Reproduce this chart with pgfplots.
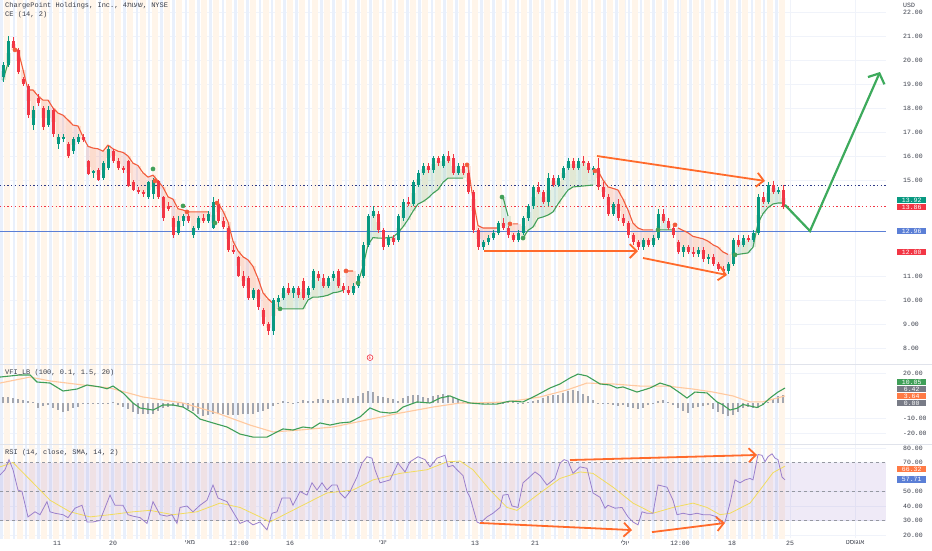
\documentclass[border=0pt]{standalone}
\usepackage{fontspec}
\usepackage{pgfplots}
\pgfplotsset{compat=1.18}
\usepackage{pgfplotstable}
\usetikzlibrary{arrows.meta}
\TeXXeTstate=1
\setmainfont{Liberation Mono}
\newfontfamily\heb[Script=Hebrew]{Liberation Sans}
\definecolor{tvgreen}{HTML}{089981}
\definecolor{tvred}{HTML}{F23645}
\definecolor{ceR}{HTML}{F25C3C}
\definecolor{ceG}{HTML}{43A05A}
\definecolor{stripeO}{HTML}{FFF5EA}
\definecolor{stripeB}{HTML}{E9F0FC}
\definecolor{tvgrid}{HTML}{F0F3FA}
\definecolor{tvtext}{HTML}{3A3E4A}
\definecolor{navy}{HTML}{2E3A87}
\definecolor{blueline}{HTML}{5B7FD6}
\definecolor{orangeA}{HTML}{FF6A2B}
\definecolor{greenA}{HTML}{3DAA5C}
\definecolor{vfiG}{HTML}{3F9F58}
\definecolor{vfiS}{HTML}{FFC9A0}
\definecolor{histc}{HTML}{A3A6AF}
\definecolor{rsiP}{HTML}{9A7FCC}
\definecolor{rsiMA}{HTML}{F2DC5D}
\definecolor{rsiband}{HTML}{7E57C2}
\definecolor{dashgray}{HTML}{9598A1}
\definecolor{boxgray}{HTML}{787B86}
\definecolor{boxorange}{HTML}{FF7A45}
\definecolor{sep}{HTML}{E0E3EB}

\pgfplotstableread{
b o
1.5 7.25
13.8 19.55
26.1 31.85
38.4 44.15
50.7 56.45
63.0 68.75
75.3 81.05
87.6 93.35
99.9 105.65
112.2 117.95
124.5 130.25
136.8 142.55
149.1 154.85
161.4 167.15
173.7 179.45
186.0 191.75
198.3 204.05
210.6 216.35
222.9 228.65
235.2 240.95
247.5 253.25
259.8 265.55
272.1 277.85
284.4 290.15
296.7 302.45
309.0 314.75
321.3 327.05
333.6 339.35
345.9 351.65
358.2 363.95
370.5 376.25
382.8 388.55
395.1 400.85
407.4 413.15
419.7 425.45
432.0 437.75
444.3 450.05
456.6 462.35
468.9 474.65
481.2 486.95
493.5 499.25
505.8 511.55
518.1 523.85
530.4 536.15
542.7 548.45
555.0 560.75
567.3 573.05
579.6 585.35
591.9 597.65
604.2 609.95
616.5 622.25
628.8 634.55
641.1 646.85
653.4 659.15
665.7 671.45
678.0 683.75
690.3 696.05
702.6 708.35
714.9 720.65
727.2 732.95
739.5 745.25
751.8 757.55
764.1 769.85
776.4 782.15
}\stripetab

\pgfplotstableread{
x o h l c ce d
3 19.3 19.9 19.1 19.8 19.15 1
8 19.8 21.0 19.7 20.8 19.87 1
13 20.8 20.95 20.4 20.5 20.42 -1
18 20.4 20.5 19.4 19.5 20.42 -1
23 19.2 19.3 18.9 19.0 19.6 -1
28 18.9 19.0 17.6 17.7 18.75 -1
33 17.3 18.1 17.1 17.9 18.75 -1
38 18.4 18.6 18.1 18.2 18.5 -1
43 18.0 18.1 17.1 17.2 18.33 -1
48 17.3 18.1 17.2 17.9 18.33 -1
53 17.9 18.0 16.8 16.9 18.0 -1
58 16.5 16.9 16.3 16.8 17.79 -1
63 16.7 16.9 16.6 16.8 17.7 -1
68 16.5 16.6 15.9 16.0 17.5 -1
73 16.2 16.8 16.1 16.7 17.29 -1
78 16.6 16.9 16.5 16.8 17.25 -1
83 16.8 16.9 16.6 16.65 16.8 -1
88 15.8 15.85 15.2 15.25 16.4 -1
93 15.3 15.4 15.1 15.35 16.33 -1
98 15.4 15.5 14.95 15.0 16.3 -1
103 15.1 15.8 15.0 15.7 16.2 -1
108 15.5 16.4 15.4 16.3 16.45 -1
113 16.2 16.3 15.7 15.8 16.3 -1
118 15.8 15.9 15.4 15.5 16.2 -1
123 15.5 15.6 15.3 15.45 16.15 -1
128 15.8 15.85 14.7 14.75 16.0 -1
133 14.9 15.0 14.55 14.6 15.7 -1
138 14.6 14.7 14.4 14.5 15.6 -1
143 14.5 14.6 14.3 14.4 15.3 -1
148 14.3 14.95 14.2 14.9 15.12 -1
153 14.4 15.1 14.2 15.0 15.2 -1
158 14.95 15.0 14.2 14.3 14.96 -1
163 14.3 14.35 13.3 13.4 14.7 -1
168 13.9 14.1 13.7 13.8 14.3 -1
173 13.4 13.5 12.6 12.7 14.2 -1
178 12.8 13.5 12.7 13.3 13.8 -1
183 13.3 13.6 13.1 13.5 13.75 -1
188 13.5 13.6 13.2 13.3 13.67 -1
193 12.7 13.1 12.6 13.0 13.67 -1
198 13.0 13.5 12.9 13.4 13.67 -1
203 13.4 13.6 13.2 13.3 13.67 -1
208 13.3 13.7 13.2 13.6 13.67 -1
213 13.0 14.3 12.95 14.1 13.2 1
218 14.0 14.2 13.2 13.3 14.04 -1
223 13.3 13.45 12.95 13.05 13.7 -1
228 13.0 13.1 12.0 12.1 13.25 -1
233 12.1 12.3 11.9 12.0 12.45 -1
238 11.8 11.85 10.95 11.0 12.05 -1
243 11.0 11.2 10.5 10.6 11.8 -1
248 10.9 11.0 10.0 10.1 11.67 -1
253 10.1 10.5 10.0 10.4 11.4 -1
258 10.4 10.45 9.6 9.7 10.9 -1
263 9.6 9.65 8.9 9.0 10.3 -1
268 9.0 9.1 8.55 8.7 10.05 -1
273 8.7 10.1 8.55 10.0 9.85 -1
278 9.9 10.2 9.7 10.1 9.63 1
283 10.1 10.6 10.0 10.5 9.63 1
288 10.5 10.7 10.2 10.3 9.63 1
293 10.3 10.6 10.1 10.5 9.63 1
298 10.5 10.6 10.1 10.2 9.63 1
303 10.8 10.9 10.0 10.1 9.63 1
308 10.2 10.6 10.1 10.5 10.0 1
313 10.5 11.3 10.4 11.2 10.12 1
318 11.1 11.2 10.8 10.9 10.12 1
323 10.9 11.1 10.5 10.6 10.15 1
328 10.6 11.0 10.5 10.9 10.2 1
333 10.9 11.2 10.8 11.1 10.3 1
338 11.2 11.3 10.5 10.6 10.33 1
343 10.6 10.7 10.3 10.4 10.4 1
348 10.4 10.6 10.2 10.3 11.21 -1
353 10.3 10.7 10.2 10.6 11.21 -1
358 10.6 11.1 10.5 11.0 10.71 1
363 11.0 12.4 10.9 12.3 11.4 1
368 12.3 13.6 12.2 13.5 12.3 1
373 13.5 13.9 13.4 13.7 12.6 1
378 13.6 13.7 12.8 12.9 12.58 1
383 12.9 13.0 12.1 12.2 12.58 1
388 12.3 12.7 12.2 12.6 12.6 1
393 12.6 12.7 12.3 12.4 12.62 1
398 12.5 13.6 12.4 13.5 12.8 1
403 13.4 14.2 13.3 14.1 13.05 1
408 14.1 14.3 13.9 14.0 13.35 1
413 14.0 15.0 13.9 14.9 13.7 1
418 14.8 15.4 14.7 15.3 14.0 1
423 15.3 15.7 15.2 15.6 14.1 1
428 15.6 15.7 15.3 15.4 14.25 1
433 15.4 16.0 15.3 15.9 14.45 1
438 15.9 16.0 15.6 15.7 14.6 1
443 15.6 16.1 15.5 16.0 14.9 1
448 16.0 16.2 15.7 15.8 15.08 1
453 15.9 16.1 15.2 15.3 15.08 1
458 15.3 15.7 15.2 15.6 15.08 1
463 15.6 15.7 15.2 15.3 15.08 1
468 15.3 15.4 14.4 14.5 15.6 -1
473 14.5 14.6 12.8 12.9 14.2 -1
478 12.9 13.0 12.1 12.2 13.1 -1
483 12.2 12.5 12.1 12.4 13.0 -1
488 12.4 12.7 12.3 12.6 13.0 -1
493 12.6 12.9 12.5 12.8 13.0 -1
498 12.8 13.3 12.7 13.2 13.0 -1
503 13.2 13.4 12.9 13.0 14.29 1
508 13.0 13.1 12.6 12.7 13.5 1
513 12.7 12.8 12.4 12.5 13.17 -1
518 12.5 12.9 12.4 12.8 13.17 -1
523 12.8 13.5 12.7 13.4 12.58 1
528 13.4 14.0 13.3 13.9 12.9 1
533 13.9 14.8 13.8 14.7 13.04 1
538 14.7 14.9 14.4 14.5 13.4 1
543 14.5 14.6 14.0 14.1 13.46 1
548 14.1 15.3 13.9 15.1 13.54 1
553 15.1 15.2 14.7 14.8 13.67 1
558 14.8 15.2 14.7 15.1 14.0 1
563 15.1 15.6 15.0 15.5 14.3 1
568 15.5 15.9 15.4 15.8 14.58 1
573 15.8 15.9 15.4 15.5 14.71 1
578 15.5 15.9 15.4 15.8 14.73 1
583 15.8 16.0 15.6 15.7 14.75 1
588 15.7 15.8 15.3 15.4 14.77 1
593 15.4 15.6 15.2 15.5 14.79 1
598 15.5 15.9 14.6 14.7 15.38 -1
603 14.7 14.9 14.2 14.3 15.0 -1
608 14.3 14.4 13.5 13.6 14.71 -1
613 13.6 14.1 13.5 14.0 14.65 -1
618 14.0 14.2 13.3 13.4 14.58 -1
623 13.4 13.6 13.1 13.2 14.2 -1
628 13.2 13.3 12.6 12.7 13.75 -1
633 12.7 12.8 12.3 12.4 13.2 -1
638 12.4 12.5 12.1 12.2 13.0 -1
643 12.2 12.6 12.1 12.5 12.92 -1
648 12.5 12.6 12.2 12.3 12.92 -1
653 12.3 12.7 12.2 12.6 12.92 -1
658 12.6 13.8 12.5 13.6 12.92 1
663 13.6 13.8 13.2 13.3 12.92 1
668 13.3 13.4 12.9 13.0 12.92 1
673 13.0 13.1 12.6 12.7 12.92 1
678 12.4 12.5 11.9 12.0 13.0 -1
683 12.0 12.3 11.8 12.2 12.9 -1
688 12.2 12.3 11.9 12.0 12.8 -1
693 12.0 12.2 11.8 11.9 12.65 -1
698 11.9 12.2 11.8 12.1 12.6 -1
703 12.1 12.2 11.6 11.7 12.55 -1
708 11.7 11.9 11.5 11.8 12.45 -1
713 11.8 11.9 11.4 11.5 12.3 -1
718 11.5 11.6 11.2 11.3 12.2 -1
723 11.3 11.4 11.05 11.2 12.0 -1
728 11.2 11.6 11.1 11.5 11.9 -1
733 11.5 12.6 11.4 12.5 11.88 1
738 12.5 12.7 12.2 12.3 11.9 1
743 12.3 12.7 12.2 12.6 11.93 1
748 12.6 12.7 12.4 12.5 11.96 1
753 12.5 12.9 12.4 12.8 12.2 1
758 12.8 14.4 12.7 14.3 13.2 1
763 14.3 14.5 14.0 14.1 13.6 1
768 14.1 14.9 14.0 14.8 13.85 1
773 14.8 14.95 14.4 14.5 14.0 1
778 14.5 14.7 14.4 14.6 14.04 1
783 14.6 14.8 13.8 13.86 14.04 1
}\candles

\newcommand{\stripes}[2]{%
\addplot[draw=none, mark=none, forget plot, error bars/.cd, y dir=both, y fixed=#2, error mark=none, error bar style={line width=6pt, draw=stripeO}] table[x=o, y expr=#1] {\stripetab};
\addplot[draw=none, mark=none, forget plot, error bars/.cd, y dir=both, y fixed=#2, error mark=none, error bar style={line width=2.6pt, draw=stripeB}] table[x=b, y expr=#1] {\stripetab};
}

\tikzset{rlabel/.style={anchor=west, inner sep=0.6pt, minimum width=29pt, minimum height=6.5pt, text=white, font={\fontsize{6.5}{7}\selectfont}}}

\pgfplotsset{
  tvbase/.style={
    scale only axis, width=886pt, xmin=0, xmax=886,
    clip mode=individual,
    axis line style={draw=none}, tick style={draw=none}, major tick length=0pt,
    grid=major, grid style={tvgrid, line width=0.5pt},
    xtick={57,113,190,239,290,383,475,535,625,680,732,790,855},
    xticklabels={},
    scaled y ticks=false,
    yticklabel pos=right,
    yticklabel style={anchor=west, inner sep=0pt, xshift=17pt, font={\fontsize{6.5}{7}\selectfont}, text=tvtext,
      /pgf/number format/fixed, /pgf/number format/fixed zerofill,
      /pgf/number format/precision=2, /pgf/number format/assume math mode=true},
  },
  cebar/.style={draw=none, mark=none, forget plot, error bars/.cd, y dir=both, y explicit, error mark=none},
}

\begin{document}
\begin{tikzpicture}
\useasboundingbox (0,0) rectangle (932pt,550pt);
\fill[white] (0,0) rectangle (932pt,550pt);

% ---------------- price pane
\begin{axis}[tvbase, anchor=south west, at={(0pt,186pt)}, height=364pt,
  ymin=7.333, ymax=22.5, ytick={8,9,10,11,15,16,17,18,19,20,21,22}]
\stripes{15}{10}
% CE fills
\addplot[cebar, error bar style={line width=5pt, draw=ceR, draw opacity=0.16}]
  table[x=x, y expr={\thisrow{d}<0 ? (\thisrow{ce}+(\thisrow{o}+\thisrow{c})/2)/2 : nan},
        y error expr={abs(\thisrow{ce}-(\thisrow{o}+\thisrow{c})/2)/2}] {\candles};
\addplot[cebar, error bar style={line width=5pt, draw=ceG, draw opacity=0.15}]
  table[x=x, y expr={\thisrow{d}>0 ? (\thisrow{ce}+(\thisrow{o}+\thisrow{c})/2)/2 : nan},
        y error expr={abs(\thisrow{ce}-(\thisrow{o}+\thisrow{c})/2)/2}] {\candles};
% horizontal levels
\addplot[navy, dash pattern=on 1.3pt off 2.4pt, line width=1pt, forget plot] coordinates {(0,14.75) (886,14.75)};
\addplot[tvred, dash pattern=on 1.3pt off 2.4pt, line width=1pt, forget plot] coordinates {(0,13.875) (886,13.875)};
\addplot[blueline, line width=0.9pt, forget plot] coordinates {(0,12.875) (886,12.875)};
% CE lines
\addplot[ceR, line width=1.1pt, unbounded coords=jump, forget plot]
  table[x=x, y expr={\thisrow{d}<0 ? \thisrow{ce} : nan}] {\candles};
\addplot[ceG, line width=1.1pt, unbounded coords=jump, forget plot]
  table[x=x, y expr={\thisrow{d}>0 ? \thisrow{ce} : nan}] {\candles};
% candles: wicks and bodies
\addplot[cebar, error bar style={line width=0.8pt, draw=tvgreen}]
  table[x=x, y expr={\thisrow{c}>=\thisrow{o} ? (\thisrow{h}+\thisrow{l})/2 : nan},
        y error expr={(\thisrow{h}-\thisrow{l})/2}] {\candles};
\addplot[cebar, error bar style={line width=3pt, draw=tvgreen}]
  table[x=x, y expr={\thisrow{c}>=\thisrow{o} ? (\thisrow{o}+\thisrow{c})/2 : nan},
        y error expr={max(abs(\thisrow{c}-\thisrow{o})/2,0.03)}] {\candles};
\addplot[cebar, error bar style={line width=0.8pt, draw=tvred}]
  table[x=x, y expr={\thisrow{c}<\thisrow{o} ? (\thisrow{h}+\thisrow{l})/2 : nan},
        y error expr={(\thisrow{h}-\thisrow{l})/2}] {\candles};
\addplot[cebar, error bar style={line width=3pt, draw=tvred}]
  table[x=x, y expr={\thisrow{c}<\thisrow{o} ? (\thisrow{o}+\thisrow{c})/2 : nan},
        y error expr={max(abs(\thisrow{c}-\thisrow{o})/2,0.03)}] {\candles};
% CE signal dots
\addplot[only marks, mark=*, mark size=2.1pt, color=ceG, forget plot] coordinates {
(153,15.46) (183,13.92) (215,13.21) (280,9.63) (358,10.71) (502,14.29) (523,12.58) (658,12.92) (735,11.88)};
\addplot[only marks, mark=*, mark size=2.1pt, color=ceR, forget plot] coordinates {
(15,20.42) (155,14.96) (187,13.67) (217,14.04) (346,11.21) (467,15.63) (510,13.17) (595,15.38) (675,13.13)};
% drawings
\addplot[orangeA, line width=1.8pt, -{Straight Barb[length=7pt,width=14pt]}, forget plot] coordinates {(597,16.0) (765,14.96)};
\addplot[orangeA, line width=1.8pt, -{Straight Barb[length=7pt,width=14pt]}, forget plot] coordinates {(484,12.04) (638,12.04)};
\addplot[orangeA, line width=1.8pt, -{Straight Barb[length=7pt,width=14pt]}, forget plot] coordinates {(643,11.75) (727,11.04)};
\addplot[greenA, line width=2.2pt, -{Straight Barb[length=8pt,width=18pt]}, forget plot] coordinates {(785,13.96) (810,12.875) (880,19.5)};
% earnings marker
\node[circle, draw=tvred, fill=white, line width=0.6pt, inner sep=0.5pt, font={\fontsize{5}{5}\selectfont}, text=tvred] at (axis cs:370,7.6) {E};
% right labels
\node[rlabel, fill=tvgreen] at (axis cs:897,14.17) {13.92};
\node[rlabel, fill=tvred] at (axis cs:897,13.875) {13.86};
\node[rlabel, fill=blueline] at (axis cs:897,12.875) {12.96};
\node[rlabel, fill=tvred] at (axis cs:897,12.0) {12.00};
\end{axis}

% ---------------- VFI pane
\begin{axis}[tvbase, anchor=south west, at={(0pt,106pt)}, height=80pt,
  ymin=-27.33, ymax=26, ytick={-20,-10,20}]
\stripes{0}{40}
\addplot[ycomb, histc, line width=1.3pt, forget plot] coordinates {
(3,4) (8,4) (13,3.5) (18,3) (23,2) (28,1.5) (33,0.5) (38,-3) (43,-2) (48,-1.5)
(53,-3) (58,-4.5) (63,-6) (68,-5) (73,-3.5) (78,-2.5) (83,-0.5) (88,0.3) (93,0.1) (98,0.1)
(103,-0.3) (108,-0.5) (113,1) (118,-1.5) (123,-2.5) (128,-4) (133,-6) (138,-7) (143,-7.5) (148,-7.5)
(153,-7) (158,-5) (163,-3) (168,-2.5) (173,-2) (178,-2) (183,-2.5) (188,-4) (193,-5.5) (198,-7.5)
(203,-8.5) (208,-8) (213,-7.5) (218,-7) (223,-7.5) (228,-8) (233,-8) (238,-8) (243,-7.5) (248,-7.5)
(253,-7) (258,-6) (263,-5) (268,-4) (273,-2) (278,-0.5) (283,1.5) (288,1) (293,0.3) (298,1)
(303,1.8) (308,1.5) (313,1.2) (318,2.5) (323,3) (328,2) (333,2) (338,3) (343,3.5) (348,3.5)
(353,3.5) (358,4.5) (363,6.5) (368,8) (373,7.5) (378,5) (383,4) (388,3.5) (393,3) (398,1.5)
(403,3.5) (408,4.5) (413,5.5) (418,5.5) (423,4) (428,3.5) (433,4.5) (438,5.5) (443,6) (448,5.5)
(453,4) (458,2.5) (463,1) (468,0.3) (473,0.1) (478,-0.5) (483,-0.8) (488,-0.8) (493,-0.9) (498,-0.9)
(503,0.1) (508,0.5) (513,0.6) (518,0.3) (523,0.1) (528,0.5) (533,1.5) (538,2) (543,3.5) (548,5)
(553,5.5) (558,5.5) (563,6.5) (568,8) (573,8.5) (578,8) (583,6) (588,4.5) (593,2) (598,0.1)
(603,-0.3) (608,-0.5) (613,-1.2) (618,-2.3) (623,-1.5) (628,-2.5) (633,-3.5) (638,-4) (643,-3) (648,-1.5)
(653,-0.5) (658,1.5) (663,2) (668,0.5) (673,-1) (678,-3) (683,-5) (688,-6.5) (693,-3) (698,-2.5)
(703,-2) (708,-1.5) (713,-4) (718,-6) (723,-7) (728,-8.5) (733,-8) (738,-6) (743,-3) (748,-2.5)
(753,-3) (758,-3) (763,-1.5) (768,1) (773,2.5) (778,4.5) (783,5.5)};
\addplot[vfiS, line width=1.1pt, forget plot] coordinates {
(0,13.3) (30,17.3) (50,14.7) (83,12) (110,10) (143,4) (183,0) (217,-6.7) (250,-14.7) (273,-19.3)
(300,-18) (333,-16) (367,-11.3) (400,-6.7) (433,-2.7) (460,0) (473,0) (507,0.7) (540,4) (567,8.7)
(587,13.3) (613,12.7) (640,11.3) (667,11.3) (693,9.3) (713,7.3) (733,4.7) (750,0.7) (763,0.8) (777,3.3) (785,4.7)};
\addplot[vfiG, line width=1.1pt, forget plot] coordinates {
(0,17.3) (20,18.7) (30,18.7) (37,14) (50,13.3) (63,8) (77,9.3) (87,12) (100,10.7) (107,9.5)
(113,11.3) (123,6.7) (133,0) (140,-3.3) (153,-4.7) (163,-1.3) (173,-1.3) (183,-2.7) (193,-6.7) (200,-10.7)
(213,-13.3) (227,-16) (240,-20.7) (253,-22.7) (267,-22.7) (277,-19.3) (283,-17.3) (293,-18) (303,-16) (312,-16.7)
(320,-13.3) (330,-14.7) (340,-13.3) (350,-12.7) (360,-9.3) (370,-3.3) (380,-6) (390,-6.7) (397,-6) (403,-2.7)
(417,0.7) (430,0) (440,3.3) (450,4.7) (460,2) (470,0) (483,-0.7) (497,-0.7) (510,1.3) (523,0.7)
(537,5.3) (550,10) (560,12.7) (570,16.7) (578,19.3) (587,18) (600,12.7) (610,12) (617,10) (623,10.7)
(637,7.3) (650,10) (660,13.3) (670,11.3) (680,6.7) (687,3.3) (695,7.3) (707,6.7) (717,0.7) (723,-1.3)
(730,-4.7) (737,-3.5) (743,-1) (750,-2) (757,-3) (763,-1) (770,3.3) (778,7.3) (785,10)};
\node[rlabel, fill=vfiG] at (axis cs:897,14) {10.05};
\node[rlabel, fill=boxgray] at (axis cs:897,9.2) {6.42};
\node[rlabel, fill=boxorange] at (axis cs:897,4.6) {3.64};
\node[rlabel, fill=boxgray] at (axis cs:897,0) {0.00};
\end{axis}

% ---------------- RSI pane
\begin{axis}[tvbase, anchor=south west, at={(0pt,12pt)}, height=94pt,
  ymin=17.93, ymax=82.76, ytick={20,30,40,50,70,80},
  xticklabels={11,20,{\heb\beginR מאי\endR},12:00,16,{\heb\beginR יוני\endR},13,21,{\heb\beginR יולי\endR},12:00,18,25,{\heb\beginR אוגוסט\endR}},
  xticklabel style={anchor=center, yshift=-5pt, inner sep=0pt, font={\fontsize{6.5}{7}\selectfont}, text=tvtext}]
\stripes{50}{40}
\fill[rsiband, fill opacity=0.12] (axis cs:0,30) rectangle (axis cs:886,70);
\addplot[dashgray, dashed, line width=0.6pt, forget plot] coordinates {(0,70) (886,70)};
\addplot[dashgray, dashed, line width=0.6pt, forget plot] coordinates {(0,50) (886,50)};
\addplot[dashgray, dashed, line width=0.6pt, forget plot] coordinates {(0,30) (886,30)};
\addplot[rsiMA, line width=0.8pt, forget plot] coordinates {
(0,67) (13,70) (33,56) (50,44) (70,36) (90,32.5) (110,34) (133,36) (150,37) (173,34)
(197,36) (220,42) (240,39) (260,32.5) (270,29) (287,35) (307,42) (327,49) (353,51) (373,58)
(400,62.5) (427,65) (447,70.5) (460,71) (473,65) (490,51) (507,39) (517,37) (540,49) (560,59)
(580,63.5) (593,62.5) (613,53) (633,42) (653,35) (673,39) (693,42) (707,39) (720,34) (730,35)
(750,42) (760,51) (773,63) (785,67.5)};
\addplot[rsiP, line width=0.8pt, forget plot] coordinates {
(0,61.4) (5,65) (9,72) (13,65) (18,51) (22,50) (28,32.5) (35,36) (40,34) (47,43)
(50,36) (55,35) (63,34) (68,32) (75,38.5) (82,40.5) (87,29) (93,29) (100,30) (110,47.5)
(115,40.5) (123,40.5) (128,34) (133,33) (140,32) (147,28) (153,43) (160,34) (167,33) (172,34)
(177,28) (180,39) (187,40) (193,36) (200,40.5) (207,44) (213,54.5) (218,45.5) (227,43) (233,36)
(240,28) (247,30) (253,27) (260,29) (267,23.5) (272,35) (277,36) (282,45.5) (290,45.5) (293,40.5)
(300,50) (307,47.5) (312,56) (317,51) (322,56) (327,51) (332,54.5) (337,54.5) (340,49) (345,45.5)
(350,50) (357,60) (362,69.5) (367,74) (372,73) (375,65) (380,56) (390,58) (398,69.5) (405,63.5)
(410,70.5) (418,74) (425,72) (430,67) (437,73) (445,75) (448,67) (453,68) (457,65) (463,61)
(467,50) (470,46) (477,29) (480,28) (487,32.5) (493,35) (500,39) (503,47.5) (508,48) (512,40)
(518,39) (523,56) (528,59) (535,63.5) (540,61) (547,54.5) (555,59) (560,69.5) (564,72) (568,71)
(573,62.5) (580,67) (587,66) (593,49) (600,46) (605,38.5) (608,40.5) (615,38.5) (622,39) (628,32.5)
(633,29) (638,27) (642,36) (647,35) (653,35) (658,54.5) (667,53) (673,44) (677,34) (683,35)
(690,34) (697,35) (703,34) (710,34) (717,32.5) (720,28) (725,29) (730,42) (735,58) (740,56)
(745,58) (750,59) (753,58) (758,75.5) (762,75) (765,70.5) (768,74) (772,76) (775,73) (778,72)
(782,60) (785,58)};
\addplot[orangeA, line width=1.8pt, -{Straight Barb[length=7pt,width=14pt]}, forget plot] coordinates {(480,28.3) (632,23.4)};
\addplot[orangeA, line width=1.8pt, -{Straight Barb[length=7pt,width=14pt]}, forget plot] coordinates {(652,22) (725,28.3)};
\addplot[orangeA, line width=1.8pt, -{Straight Barb[length=7pt,width=14pt]}, forget plot] coordinates {(570,71.7) (757,75.2)};
\node[rlabel, fill=boxorange] at (axis cs:897,65.6) {66.32};
\node[rlabel, fill=blueline] at (axis cs:897,58.2) {57.71};
\end{axis}

% pane separators and titles
\draw[sep, line width=0.8pt] (0,186pt) -- (932pt,186pt);
\draw[sep, line width=0.8pt] (0,106pt) -- (932pt,106pt);
\node[anchor=west, inner sep=0pt, font={\fontsize{7}{8}\selectfont}, text=tvtext] at (5pt,544pt) {ChargePoint Holdings, Inc., 4{\heb\beginR שעות\endR}, NYSE};
\node[anchor=west, inner sep=0pt, font={\fontsize{7}{8}\selectfont}, text=tvtext] at (5pt,535pt) {CE (14, 2)};
\node[anchor=west, inner sep=0pt, font={\fontsize{7}{8}\selectfont}, text=tvtext] at (5pt,177pt) {VFI\_LB (100, 0.1, 1.5, 20)};
\node[anchor=west, inner sep=0pt, font={\fontsize{7}{8}\selectfont}, text=tvtext] at (5pt,97pt) {RSI (14, close, SMA, 14, 2)};
\node[anchor=west, inner sep=0pt, font={\fontsize{6.5}{7}\selectfont}, text=tvtext] at (903pt,545pt) {USD};
\end{tikzpicture}
\end{document}
